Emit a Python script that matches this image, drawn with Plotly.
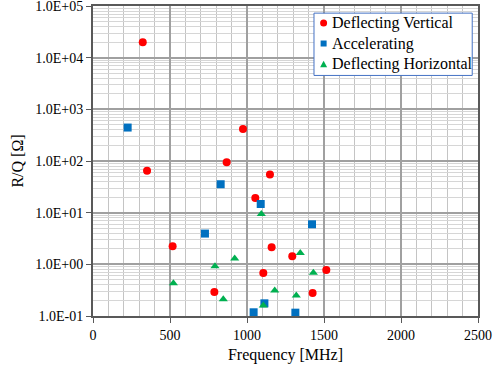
import plotly.graph_objects as go

dv_freq = [323, 351, 974, 868, 1149, 517, 788, 1054, 1160, 1294, 1106, 1515, 1426]
dv_rq = [1.98e4, 65, 417, 95, 55, 2.23, 0.29, 19.2, 2.14, 1.43, 0.68, 0.78, 0.28]

acc_freq = [225, 829, 727, 1089, 1422, 1113, 1043, 1314]
acc_rq = [444, 35.5, 3.94, 14.7, 5.96, 0.176, 0.118, 0.116]

dh_freq = [522, 792, 920, 846, 1093, 1346, 1431, 1180, 1320, 1106]
dh_rq = [0.43, 0.92, 1.29, 0.21, 9.4, 1.66, 0.69, 0.31, 0.25, 0.16]

series_names = ["Deflecting Vertical", "Accelerating", "Deflecting Horizontal"]
series_colors = ["#FF0000", "#0070C0", "#00B050"]

y_tickvals = [0.1, 1, 10, 100, 1000, 10000, 100000]
y_ticktext = ["1.0E-01", "1.0E+00", "1.0E+01", "1.0E+02", "1.0E+03", "1.0E+04", "1.0E+05"]
x_tickvals = [0, 500, 1000, 1500, 2000, 2500]

y_minor = [m * 10.0 ** k for k in range(-1, 5) for m in range(2, 10)]
x_minor = [v for v in range(0, 2501, 100) if v % 500 != 0]

FF = "Liberation Serif"

fig = go.Figure()
fig.add_trace(go.Scatter(x=dv_freq, y=dv_rq, mode="markers", name=series_names[0],
                         marker=dict(symbol="circle", color=series_colors[0], size=8)))
fig.add_trace(go.Scatter(x=acc_freq, y=acc_rq, mode="markers", name=series_names[1],
                         marker=dict(symbol="square", color=series_colors[1], size=8)))
fig.add_trace(go.Scatter(x=dh_freq, y=dh_rq, mode="markers", name=series_names[2],
                         marker=dict(symbol="triangle-up", color=series_colors[2], size=8)))

# custom legend (box, symbols, labels) in paper coordinates
shapes = [dict(type="rect", xref="paper", yref="paper", x0=0.574, x1=0.985, y0=0.776, y1=0.977,
               line=dict(color="#4472C4", width=1), fillcolor="white", layer="above")]
row_y = [0.945, 0.879, 0.812]
sym_x = 0.599
shapes.append(dict(type="circle", xref="paper", yref="paper", xsizemode="pixel", ysizemode="pixel",
                   xanchor=sym_x, yanchor=row_y[0], x0=-3.5, x1=3.5, y0=-3.5, y1=3.5,
                   fillcolor=series_colors[0], line=dict(width=0), layer="above"))
shapes.append(dict(type="rect", xref="paper", yref="paper", xsizemode="pixel", ysizemode="pixel",
                   xanchor=sym_x, yanchor=row_y[1], x0=-3, x1=3, y0=-3, y1=3,
                   fillcolor=series_colors[1], line=dict(width=0), layer="above"))
shapes.append(dict(type="path", xref="paper", yref="paper", xsizemode="pixel", ysizemode="pixel",
                   xanchor=sym_x, yanchor=row_y[2], path="M -3.5 -3 L 3.5 -3 L 0 3.5 Z",
                   fillcolor=series_colors[2], line=dict(width=0), layer="above"))
annotations = [dict(xref="paper", yref="paper", x=0.616, y=yy, text=t, showarrow=False,
                    xanchor="left", yanchor="middle", font=dict(family=FF, size=16, color="black"))
               for yy, t in zip(row_y, series_names)]

fig.update_layout(
    width=493, height=369,
    margin=dict(l=93, r=15, t=6, b=53),
    paper_bgcolor="white", plot_bgcolor="white",
    font=dict(family=FF, size=14, color="black"),
    showlegend=False,
    shapes=shapes,
    annotations=annotations,
    xaxis=dict(
        range=[0, 2500], tickmode="array", tickvals=x_tickvals,
        automargin=False, ticklabeloverflow="allow",
        tickfont=dict(family=FF, size=14, color="black"),
        showgrid=True, gridcolor="#A0A0A0", gridwidth=1.5,
        showline=True, linecolor="#595959", linewidth=2, mirror=True,
        ticks="outside", ticklen=5, tickcolor="#595959",
        zeroline=False,
        title=dict(text="Frequency [MHz]", font=dict(family=FF, size=16, color="black"), standoff=7),
        minor=dict(tickmode="array", tickvals=x_minor, showgrid=True,
                   gridcolor="#C4C4C4", gridwidth=1, ticks=""),
    ),
    yaxis=dict(
        type="log", range=[-1, 5], tickmode="array",
        tickvals=y_tickvals, ticktext=y_ticktext,
        automargin=False, ticklabeloverflow="allow",
        tickfont=dict(family=FF, size=14, color="black"),
        showgrid=True, gridcolor="#A0A0A0", gridwidth=1.5,
        showline=True, linecolor="#595959", linewidth=2, mirror=True,
        ticks="outside", ticklen=5, tickcolor="#595959",
        zeroline=False,
        title=dict(text="R/Q [Ω]", font=dict(family=FF, size=16, color="black"), standoff=8),
        minor=dict(tickmode="array", tickvals=y_minor, showgrid=True,
                   gridcolor="#D6D6D6", gridwidth=1, ticks=""),
    ),
)

fig.write_html("out.html", config={"displayModeBar": False},
               post_script="document.body.style.margin='0';document.body.style.overflow='hidden';")
